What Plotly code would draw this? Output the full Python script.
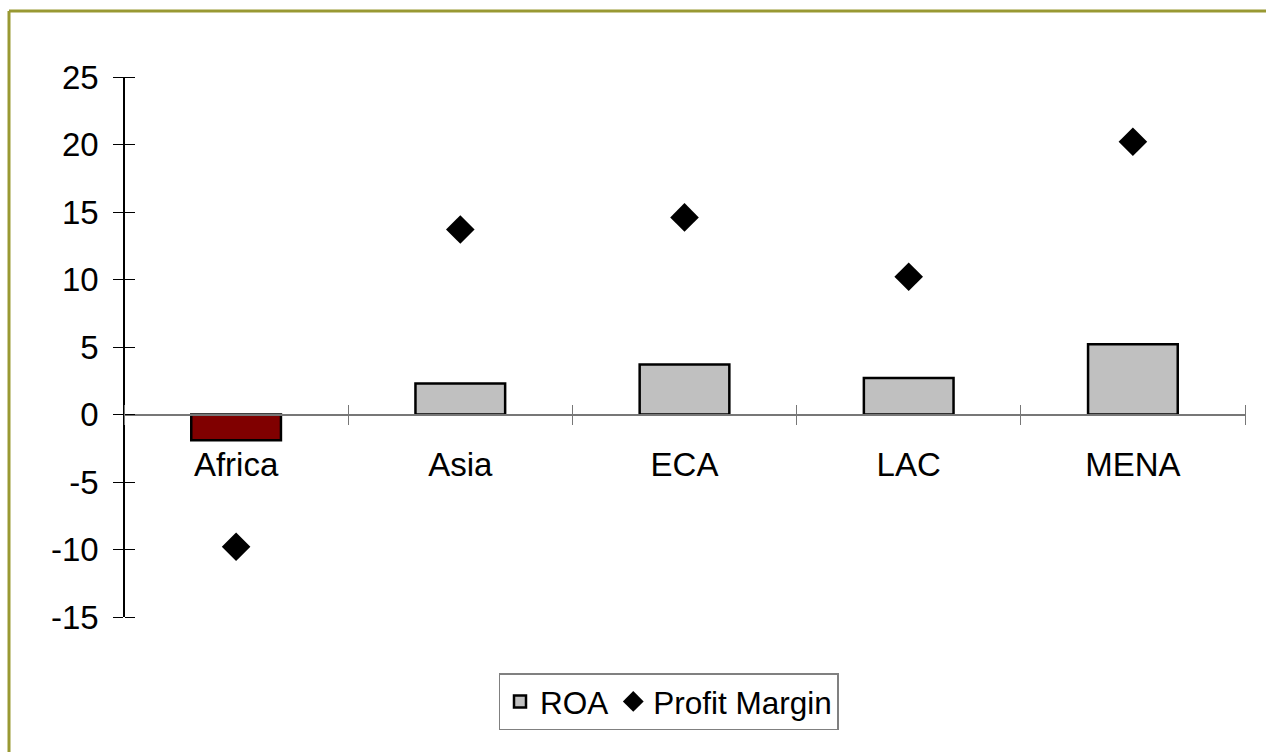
import plotly.graph_objects as go

# Regional profitability indicators
regions = ["Africa", "Asia", "ECA", "LAC", "MENA"]
roa = [-1.9, 2.3, 3.7, 2.7, 5.2]
profit_margin = [-9.8, 13.7, 14.6, 10.2, 20.2]
y_ticks = [-15, -10, -5, 0, 5, 10, 15, 20, 25]
y_tick_text = [str(v) for v in y_ticks]

ROA_COLOR = "#C0C0C0"
LOSS_COLOR = "#800000"

FONT = "Arial, Liberation Sans, sans-serif"
W, H = 1266, 752
ML, MR, MT, MB = 124, 21, 77, 135
PW, PH = W - ML - MR, H - MT - MB
Y_MIN, Y_MAX = -15, 25
ZERO_POS = (0 - Y_MIN) / (Y_MAX - Y_MIN)

neg = [i for i, v in enumerate(roa) if v < 0]
pos = [i for i, v in enumerate(roa) if v >= 0]

fig = go.Figure()

# positive ROA bars carry the legend entry
fig.add_trace(go.Bar(
    x=[regions[i] for i in pos], y=[roa[i] for i in pos], name="ROA",
    marker=dict(color=ROA_COLOR, line=dict(color="black", width=2.5)),
    width=0.4, xaxis="x", yaxis="y",
))
# negative ROA highlighted in dark red
fig.add_trace(go.Bar(
    x=[regions[i] for i in neg], y=[roa[i] for i in neg], name="ROA",
    marker=dict(color=LOSS_COLOR, line=dict(color="black", width=2.5)),
    width=0.4, xaxis="x", yaxis="y", showlegend=False,
))

fig.add_trace(go.Scatter(
    x=regions, y=profit_margin, name="Profit Margin", mode="markers",
    marker=dict(symbol="diamond", size=22, color="black"),
    xaxis="x2", yaxis="y2",
))

common_y = dict(range=[Y_MIN, Y_MAX], tickvals=y_ticks, ticktext=y_tick_text,
                showgrid=False, zeroline=False, ticklen=10, tickwidth=1.2,
                tickcolor="black", ticks="outside")
common_x = dict(type="category", categoryarray=regions, categoryorder="array",
                range=[-0.5, 4.5], tickson="boundaries", showgrid=False,
                zeroline=False, anchor="free", position=ZERO_POS, ticklen=10,
                tickwidth=1.2, tickcolor="#777777", ticks="outside")

fig.update_layout(
    width=W, height=H,
    margin=dict(l=ML, r=MR, t=MT, b=MB),
    paper_bgcolor="white", plot_bgcolor="white",
    font=dict(family=FONT, size=32, color="black"),
    showlegend=True,
    barmode="overlay",
    yaxis=dict(**common_y, side="left", anchor="free", position=0,
               showline=True, linecolor="black", linewidth=1.5,
               ticklabelstandoff=8, tickfont=dict(size=33)),
    # mirror axes supply the half of each tick that crosses into the plot
    yaxis2=dict(**common_y, overlaying="y", side="right", anchor="free",
                position=0, showline=False, showticklabels=False),
    xaxis=dict(**common_x, side="bottom", showline=True,
               linecolor="#777777", linewidth=1.5,
               tickfont=dict(size=33), ticklabelstandoff=21),
    xaxis2=dict(**common_x, overlaying="x", side="top",
                showline=False, showticklabels=False),
    legend=dict(
        orientation="h", x=(668.5 - ML) / PW, xanchor="center",
        y=(MT + PH - 673) / PH, yanchor="top",
        bordercolor="#808080", borderwidth=1.5, bgcolor="white",
        font=dict(size=31.5), itemsizing="trace",
        itemwidth=30, tracegroupgap=0,
    ),
    shapes=[
        # frame edges along the top and left of the chart
        dict(type="line", xref="paper", yref="paper",
             x0=(9 - ML) / PW, x1=(W - ML) / PW,
             y0=(MT + PH - 11) / PH, y1=(MT + PH - 11) / PH,
             line=dict(color="#999933", width=3)),
        dict(type="line", xref="paper", yref="paper",
             x0=(9 - ML) / PW, x1=(9 - ML) / PW,
             y0=(MT + PH - 11) / PH, y1=(MT + PH - H) / PH,
             line=dict(color="#999933", width=3)),
    ],
)

fig.write_html("out.html")
